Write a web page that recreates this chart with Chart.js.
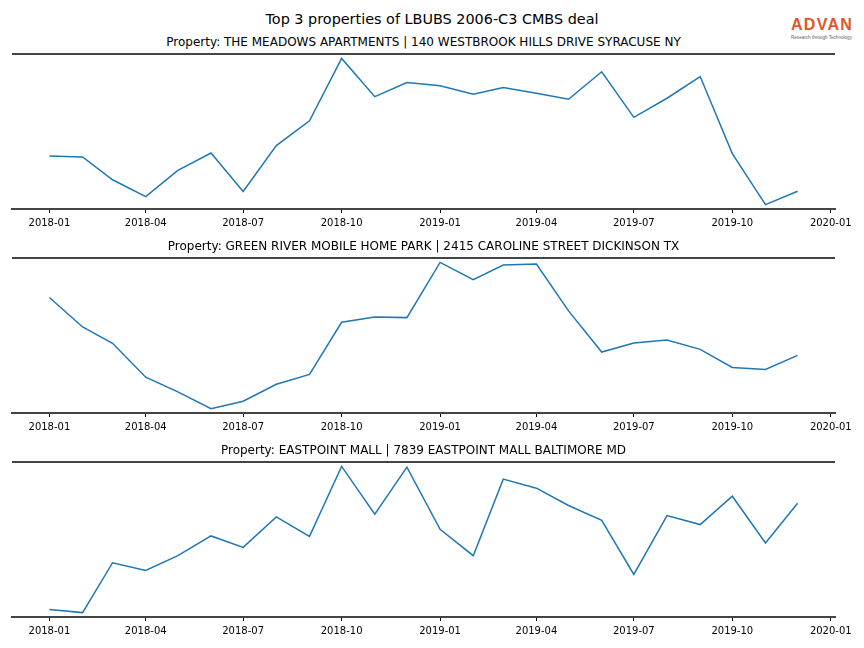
<!DOCTYPE html>
<html>
<head>
<meta charset="utf-8">
<script src="https://cdn.jsdelivr.net/npm/chart.js@4.4.1/dist/chart.umd.min.js"></script>
<style>
  body { margin: 0; background: #fff; font-family: "DejaVu Sans", sans-serif; }
  #wrap { position: relative; width: 864px; height: 648px; overflow: hidden; }
  .panel { position: absolute; left: 0; width: 864px; height: 210px; }
  .title { position: absolute; color: #000; white-space: nowrap; text-align: center; }
  #logo { position: absolute; left: 791px; top: 16px; width: 72px; }
  #logo .big { font-family: "Liberation Sans", sans-serif; font-weight: bold; font-size: 16px; color: #e2552a; letter-spacing: 1.3px; line-height: 18px; }
  #logo .small { font-family: "Liberation Sans", sans-serif; font-size: 4.6px; color: #666; line-height: 6px; white-space: nowrap; margin-top: 1px; }
</style>
</head>
<body>
<div id="wrap">
  <div class="title" style="left:0;width:864px;top:9px;font-size:14.4px;line-height:20px;">Top 3 properties of LBUBS 2006-C3 CMBS deal</div>
  <div id="logo"><div class="big">ADVAN</div><div class="small">Research through Technology</div></div>
</div>

<script>
// monthly points, 2018-01 .. 2019-12
const months = [
    '2018-01','2018-02','2018-03','2018-04','2018-05','2018-06','2018-07','2018-08','2018-09','2018-10','2018-11','2018-12',
    '2019-01','2019-02','2019-03','2019-04','2019-05','2019-06','2019-07','2019-08','2019-09','2019-10','2019-11','2019-12'
];
const tickLabels = ['2018-01','2018-04','2018-07','2018-10','2019-01','2019-04','2019-07','2019-10','2020-01'];

const titles = [
    'Property: THE MEADOWS APARTMENTS | 140 WESTBROOK HILLS DRIVE SYRACUSE NY',
    'Property: GREEN RIVER MOBILE HOME PARK | 2415 CAROLINE STREET DICKINSON TX',
    'Property: EASTPOINT MALL | 7839 EASTPOINT MALL BALTIMORE MD'
];

// values (no y scale shown, relative units)
const meadows = [53.3, 52.3, 29.7, 13, 39, 56.3, 18, 63.7, 88.3, 150.3, 112.3, 126.3,
                 123, 114.7, 121.3, 115.7, 109.7, 137, 91.7, 110.7, 132.3, 55.7, 5, 18.3];
const greenRiver = [114.3, 85, 68.7, 35, 20.3, 3.7, 11, 28, 37.7, 89.7, 95, 94.3,
                    149.3, 132, 146.7, 147.7, 101, 60, 69, 72, 62.7, 44.7, 42.7, 56.7];
const eastpoint = [6.3, 3.3, 53, 45.3, 60, 79.7, 68.3, 98.7, 79.3, 149, 101.3, 148.3,
                   86.3, 60, 136.3, 127.3, 110, 95.3, 41.3, 100, 91, 119.3, 72.7, 112.3];

const seriesList = [meadows, greenRiver, eastpoint];
const panelTops = [30, 234, 438];   // canvas top per panel

function toTime(s) {
    const p = s.split('-');
    return Date.UTC(+p[0], +p[1] - 1, 1);
}

// top spine, like the matplotlib frame
const topSpine = {
    id: 'topSpine',
    afterDraw(chart) {
        const a = chart.chartArea, ctx = chart.ctx;
        ctx.save();
        ctx.strokeStyle = '#444';
        ctx.lineWidth = 2;
        ctx.beginPath();
        ctx.moveTo(a.left, a.top);
        ctx.lineTo(a.right, a.top);
        ctx.stroke();
        ctx.restore();
    }
};

const xs = months.map(toTime);
const xSpan = xs[xs.length - 1] - xs[0];
const xMin = xs[0] - xSpan * 0.05;
const xMax = xs[xs.length - 1] + xSpan * 0.05;
const tickValues = tickLabels.map(toTime);

seriesList.forEach((vals, i) => {
    const wrap = document.getElementById('wrap');

    // subplot title, centred over the axes (12..835)
    const t = document.createElement('div');
    t.className = 'title';
    t.style.left = '12px';
    t.style.width = '823px';
    t.style.top = (panelTops[i] + 4) + 'px';
    t.style.fontSize = '12px';
    t.style.lineHeight = '16px';
    t.textContent = titles[i];
    wrap.appendChild(t);

    const box = document.createElement('div');
    box.className = 'panel';
    box.style.top = panelTops[i] + 'px';
    const cv = document.createElement('canvas');
    box.appendChild(cv);
    wrap.appendChild(box);

    const lo = Math.min(...vals), hi = Math.max(...vals);
    const pad = (hi - lo) * 0.03;

    new Chart(cv, {
        type: 'line',
        data: {
            datasets: [{
                data: vals.map((v, k) => ({ x: xs[k], y: v })),
                borderColor: '#1f77b4',
                borderWidth: 1.5,
                pointRadius: 0,
                tension: 0,
                fill: false
            }]
        },
        options: {
            responsive: true,
            maintainAspectRatio: false,
            animation: false,
            layout: { padding: { top: 24, left: 12, right: 29, bottom: 0 } },
            plugins: { legend: { display: false }, title: { display: false }, tooltip: { enabled: false } },
            scales: {
                x: {
                    type: 'linear',
                    min: xMin,
                    max: xMax,
                    afterBuildTicks: (s) => { s.ticks = tickValues.map(v => ({ value: v })); },
                    afterFit: (s) => { s.height = 31; },
                    ticks: {
                        autoSkip: false,
                        maxRotation: 0,
                        padding: 4,
                        color: '#000',
                        font: { family: 'DejaVu Sans', size: 10 },
                        callback: (v) => tickLabels[tickValues.indexOf(v)]
                    },
                    grid: { drawOnChartArea: false, drawTicks: true, tickLength: 4, color: '#000', lineWidth: 1 },
                    border: { display: true, color: '#444', width: 2 }
                },
                y: {
                    display: false,
                    min: lo - pad,
                    max: hi + pad
                }
            }
        },
        plugins: [topSpine]
    });
});
</script>
</body>
</html>
